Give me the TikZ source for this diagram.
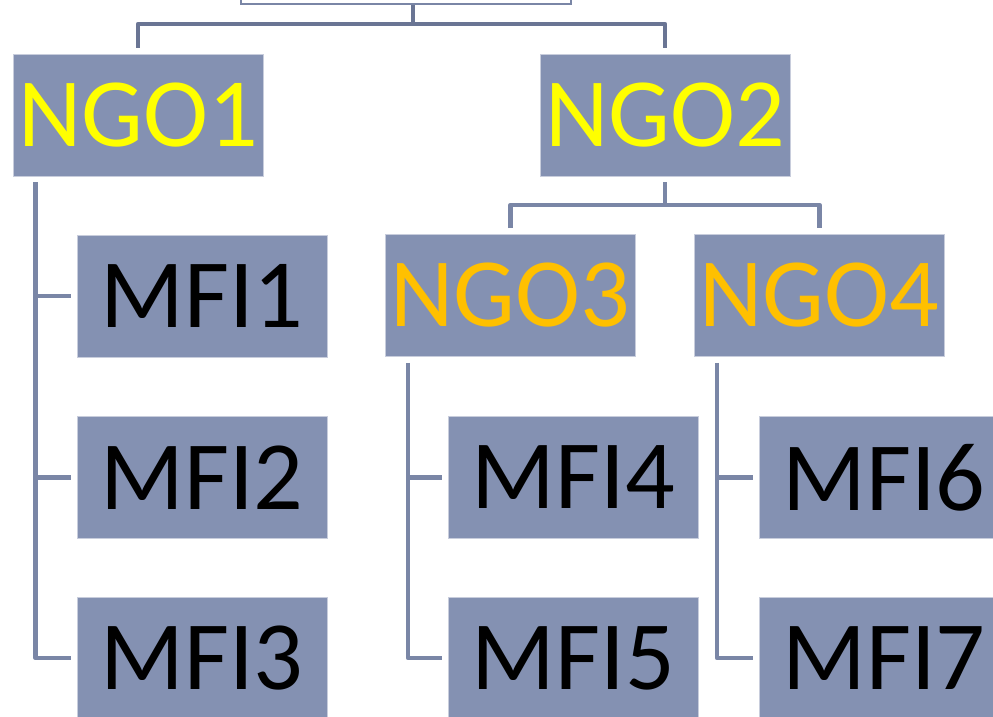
\documentclass[tikz,border=0pt]{standalone}
\usepackage{fontspec}
\setmainfont{Carlito}
\begin{document}
\definecolor{boxfill}{RGB}{132,145,178}
\definecolor{linkcol}{RGB}{122,134,166}
\definecolor{toplink}{RGB}{106,117,148}
\definecolor{ngoyellow}{RGB}{255,255,0}
\definecolor{ngoorange}{RGB}{255,192,0}
\begin{tikzpicture}[x=1pt,y=-1pt,
  orgbox/.style={rectangle, fill=boxfill, draw=white!55!boxfill, line width=0.8pt,
    minimum width=250pt, minimum height=122pt, inner sep=0pt,
    font=\fontsize{98}{98}\selectfont},
  ngotop/.style={orgbox, text=ngoyellow},
  ngosub/.style={orgbox, text=ngoorange},
  mfibox/.style={orgbox, text=black},
  link/.style={draw=linkcol, line width=4.5pt, line join=round},
  tlink/.style={draw=toplink, line width=4.5pt, line join=round}]
\clip (0,0) rectangle (993,716);
\fill[white] (0,0) rectangle (993,716);

% root box, mostly above the page
\node[rectangle, fill=white, draw=linkcol, line width=2pt,
  minimum width=330pt, minimum height=40pt] (root) at (406,-16) {};

% first level
\node[ngotop] (ngo1) at (138,115) {NGO1};
\node[ngotop] (ngo2) at (665,115) {NGO2};

% second level under NGO2
\node[ngosub] (ngo3) at (510.5,295.5) {NGO3};
\node[ngosub] (ngo4) at (819.5,295.5) {NGO4};

% MFIs
\node[mfibox] (mfi1) at (202,296) {MFI1};
\node[mfibox] (mfi2) at (202,477.5) {MFI2};
\node[mfibox] (mfi3) at (202,658) {MFI3};
\node[mfibox] (mfi4) at (573.5,477.5) {MFI4};
\node[mfibox] (mfi5) at (573.5,658) {MFI5};
\node[mfibox] (mfi6) at (884,477.5) {MFI6};
\node[mfibox] (mfi7) at (884,658) {MFI7};

% root to NGO1 / NGO2
\coordinate (m1) at (413,24);
\draw[tlink] (root.south -| m1) -- (m1);
\draw[tlink] ([yshift=6pt]ngo1.north) |- (m1) -| ([yshift=6pt]ngo2.north);

% NGO2 to NGO3 / NGO4
\coordinate (m2) at (665,205);
\draw[link] ([yshift=-6pt]ngo2.south) -- (m2);
\draw[link] ([yshift=6pt]ngo3.north) |- (m2) -| ([yshift=6pt]ngo4.north);

% NGO1 spine
\coordinate (s1) at ([xshift=23pt,yshift=-6pt]ngo1.south west);
\draw[link] (s1) |- ([xshift=-6pt]mfi3.west);
\draw[link] (s1 |- mfi1.west) -- ([xshift=-6pt]mfi1.west);
\draw[link] (s1 |- mfi2.west) -- ([xshift=-6pt]mfi2.west);

% NGO3 spine
\coordinate (s3) at ([xshift=23pt,yshift=-6pt]ngo3.south west);
\draw[link] (s3) |- ([xshift=-6pt]mfi5.west);
\draw[link] (s3 |- mfi4.west) -- ([xshift=-6pt]mfi4.west);

% NGO4 spine
\coordinate (s4) at ([xshift=23pt,yshift=-6pt]ngo4.south west);
\draw[link] (s4) |- ([xshift=-6pt]mfi7.west);
\draw[link] (s4 |- mfi6.west) -- ([xshift=-6pt]mfi6.west);
\end{tikzpicture}
\end{document}
